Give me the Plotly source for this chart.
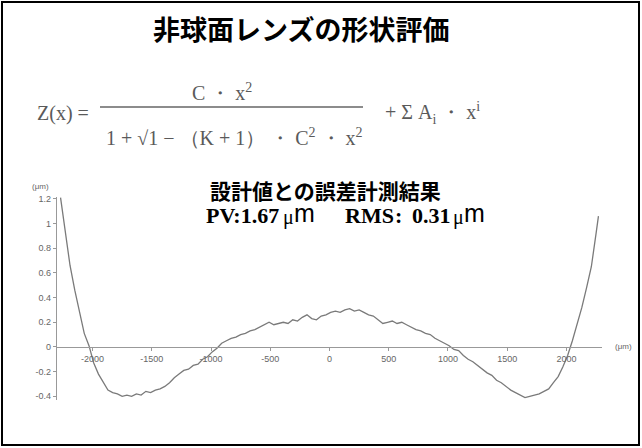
import plotly.graph_objects as go

# ---------------- data ----------------
x_um = [-2270, -2230, -2190, -2150, -2110, -2070, -2030, -1990, -1950, -1910,
        -1870, -1830, -1790, -1750, -1710, -1670, -1630, -1590, -1550, -1510,
        -1470, -1430, -1390, -1350, -1310, -1270, -1230, -1190, -1150, -1110,
        -1070, -1030, -990, -950, -910, -870, -830, -790, -750, -710,
        -670, -630, -590, -550, -510, -470, -430, -390, -350, -310,
        -270, -230, -190, -150, -110, -70, -30, 10, 50, 90,
        130, 170, 210, 250, 290, 330, 370, 410, 450, 490,
        530, 570, 610, 650, 690, 730, 770, 810, 850, 890,
        930, 970, 1010, 1050, 1090, 1130, 1170, 1210, 1250, 1290,
        1330, 1370, 1410, 1450, 1490, 1530, 1570, 1610, 1650, 1690,
        1730, 1770, 1810, 1850, 1890, 1930, 1970, 2010, 2050, 2090,
        2130, 2170, 2210, 2250, 2270]
err_um = [1.21, 0.95, 0.66, 0.46, 0.27, 0.11, 0.01, -0.13, -0.22, -0.29,
          -0.35, -0.37, -0.38, -0.40, -0.39, -0.40, -0.38, -0.39, -0.36, -0.37,
          -0.35, -0.34, -0.32, -0.29, -0.25, -0.22, -0.19, -0.18, -0.15, -0.14,
          -0.10, -0.08, -0.04, -0.01, 0.03, 0.05, 0.07, 0.08, 0.10, 0.11,
          0.13, 0.14, 0.16, 0.18, 0.20, 0.18, 0.19, 0.20, 0.19, 0.22,
          0.21, 0.24, 0.26, 0.23, 0.22, 0.25, 0.26, 0.28, 0.29, 0.28,
          0.30, 0.31, 0.29, 0.30, 0.28, 0.26, 0.25, 0.22, 0.19, 0.20,
          0.21, 0.19, 0.20, 0.18, 0.16, 0.14, 0.13, 0.11, 0.10, 0.07,
          0.05, 0.03, 0.01, -0.02, -0.03, -0.07, -0.10, -0.12, -0.15, -0.18,
          -0.21, -0.23, -0.27, -0.29, -0.32, -0.35, -0.37, -0.39, -0.41, -0.40,
          -0.39, -0.38, -0.36, -0.34, -0.29, -0.24, -0.16, -0.07, 0.05, 0.18,
          0.32, 0.48, 0.65, 0.92, 1.06]

x_ticks = [-2000, -1500, -1000, -500, 0, 500, 1000, 1500, 2000]
x_tick_labels = ["-2000", "-1500", "-1000", "-500", "0", "500", "1000", "1500", "2000"]
y_ticks = [-0.4, -0.2, 0, 0.2, 0.4, 0.6, 0.8, 1.0, 1.2]
y_tick_labels = ["-0.4", "-0.2", "0", "0.2", "0.4", "0.6", "0.8", "1", "1.2"]

title_text = "非球面レンズの形状評価"
sub_title = "設計値との誤差計測結果"
pv_value = "PV:1.67"
rms_label = "RMS"
rms_value = "0.31"
unit_text = "(μm)"

# ---------------- layout geometry ----------------
W, H = 642, 448
ML, MR, MT, MB = 57, 40, 197, 48
PW, PH = W - ML - MR, H - MT - MB
X_RANGE = [-2300, 2300]
Y_RANGE = [-0.43, 1.215]


def px(x):
    return (x - ML) / PW


def py(y):
    return (H - MB - y) / PH


fig = go.Figure()
fig.add_trace(go.Scatter(x=x_um, y=err_um, mode="lines",
                         line=dict(color="#7a7a7a", width=1.3),
                         hoverinfo="skip", showlegend=False))

zero_pos = (0 - Y_RANGE[0]) / (Y_RANGE[1] - Y_RANGE[0])
tick_font = dict(family="Liberation Sans", size=9, color="#666666")

fig.update_layout(
    width=W, height=H,
    margin=dict(l=ML, r=MR, t=MT, b=MB),
    paper_bgcolor="white", plot_bgcolor="white",
    showlegend=False,
    xaxis=dict(range=X_RANGE, tickvals=x_ticks, ticktext=x_tick_labels,
               showgrid=False, zeroline=False, showline=True,
               linecolor="#999999", linewidth=1.2,
               ticks="outside", ticklen=3, tickcolor="#999999",
               anchor="free", position=zero_pos, tickfont=tick_font),
    yaxis=dict(range=Y_RANGE, tickvals=y_ticks, ticktext=y_tick_labels,
               showgrid=False, zeroline=False, showline=True,
               linecolor="#999999", linewidth=1.2,
               ticks="outside", ticklen=3, tickcolor="#999999",
               tickfont=tick_font),
)

ann = []


def add(xc, yc, text, font, xanchor="center"):
    ann.append(dict(x=px(xc), y=py(yc), text=text, font=font,
                    xref="paper", yref="paper", showarrow=False,
                    xanchor=xanchor, yanchor="middle"))


# Title
add(301, 28, "<b>" + title_text + "</b>",
    dict(family="Noto Sans CJK JP", size=27, color="black"))
# Formula
ffont = dict(family="Liberation Serif", size=20, color="#5a5a5a")
add(35, 113, "Z(x) =", ffont, "left")
add(222, 92, "C ・ x<sup>2</sup>", ffont)
add(104, 137, "1 + √1 − （K + 1） ・ C<sup>2</sup> ・ x<sup>2</sup>", ffont, "left")
add(383, 113, "+ Σ A<sub>i</sub> ・ x<sup>i</sup>", ffont, "left")
# Chart annotations
add(325, 190, "<b>" + sub_title + "</b>",
    dict(family="Noto Sans CJK JP", size=21, color="black"))
sfont = dict(family="Liberation Serif", size=22, color="black", weight="bold")
mfont = dict(family="Liberation Sans", size=25, color="black")
ufont = dict(family="Liberation Serif", size=20, color="black")
SY = 215
add(204, SY, pv_value, sfont, "left")
add(281, SY + 2, "μ", ufont, "left")
add(292, SY - 2, "m", mfont, "left")
add(343, SY, rms_label, sfont, "left")
add(398, SY, ":", sfont)
add(410, SY, rms_value, sfont, "left")
add(451, SY + 2, "μ", ufont, "left")
add(462, SY - 2, "m", mfont, "left")
# Axis units
add(40, 186, unit_text, dict(family="Liberation Sans", size=8, color="#666666"))
add(624, 346, unit_text, dict(family="Liberation Sans", size=8, color="#666666"))

fig.update_layout(annotations=ann)

shapes = [
    # fraction bar
    dict(type="line", xref="paper", yref="paper",
         x0=px(100), x1=px(363), y0=py(107), y1=py(107),
         line=dict(color="#666666", width=1.5)),
    # figure border
    dict(type="rect", xref="paper", yref="paper",
         x0=px(2), x1=px(639), y0=py(2), y1=py(445),
         line=dict(color="black", width=2), fillcolor="rgba(0,0,0,0)"),
]
fig.update_layout(shapes=shapes)

fig.write_html(
    "out.html",
    config={"displayModeBar": False},
    post_script="document.body.style.margin='0';document.body.style.overflow='hidden';",
)
